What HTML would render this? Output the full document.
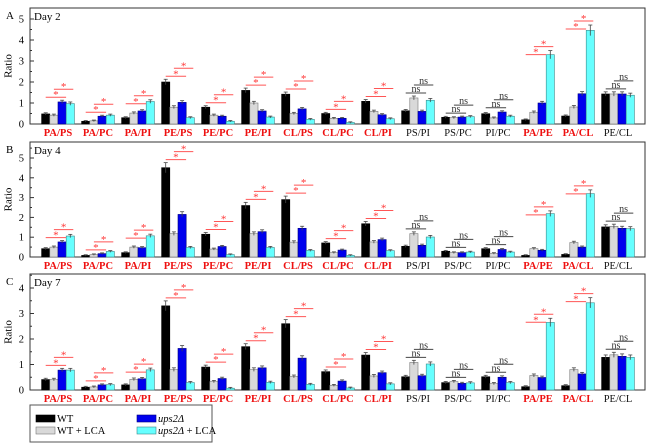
<!DOCTYPE html>
<html><head><meta charset="utf-8"><style>
body{margin:0;background:#fff}
svg{display:block;font-family:"Liberation Serif",serif}
</style></head><body>
<svg id="chart" width="650" height="446" viewBox="0 0 650 446"></svg>
<script>
const categories=["PA/PS","PA/PC","PA/PI","PE/PS","PE/PC","PE/PI","CL/PS","CL/PC","CL/PI","PS/PI","PS/PC","PI/PC","PA/PE","PA/CL","PE/CL"];
const significant=[1,1,1,1,1,1,1,1,1,0,0,0,1,1,0];
const seriesNames=["WT","WT + LCA","ups2Δ","ups2Δ + LCA"];
const day2WT=[0.48,0.13,0.30,2.00,0.80,1.60,1.42,0.50,1.08,0.63,0.32,0.49,0.20,0.38,1.43];
const day2WTLCA=[0.42,0.15,0.52,0.80,0.42,1.00,0.50,0.27,0.60,1.24,0.30,0.29,0.56,0.81,1.43];
const day2Ups=[1.05,0.37,0.62,1.03,0.37,0.62,0.72,0.27,0.44,0.60,0.33,0.57,1.00,1.44,1.43];
const day2UpsLCA=[0.97,0.42,1.07,0.30,0.13,0.33,0.22,0.07,0.25,1.13,0.35,0.37,3.30,4.46,1.37];
const day4WT=[0.42,0.08,0.22,4.51,1.15,2.60,2.90,0.71,1.68,0.54,0.29,0.42,0.08,0.13,1.52];
const day4WTLCA=[0.50,0.12,0.50,1.18,0.40,1.18,0.75,0.22,0.76,1.18,0.22,0.18,0.42,0.73,1.55];
const day4Ups=[0.76,0.17,0.47,2.15,0.53,1.28,1.45,0.35,0.88,0.59,0.22,0.38,0.34,0.50,1.45];
const day4UpsLCA=[1.06,0.28,1.07,0.48,0.12,0.48,0.33,0.08,0.32,1.01,0.25,0.25,2.19,3.20,1.43];
const day7WT=[0.41,0.11,0.20,3.30,0.90,1.70,2.60,0.72,1.37,0.52,0.29,0.52,0.13,0.17,1.28];
const day7WTLCA=[0.41,0.12,0.42,0.80,0.33,0.80,0.53,0.18,0.55,1.08,0.33,0.25,0.57,0.80,1.38];
const day7Ups=[0.78,0.20,0.44,1.63,0.45,0.87,1.25,0.35,0.68,0.56,0.26,0.50,0.49,0.63,1.32];
const day7UpsLCA=[0.78,0.21,0.79,0.29,0.07,0.30,0.22,0.08,0.24,1.02,0.28,0.29,2.65,3.42,1.28];
const panelLetters=["A","B","C"];
const panelDays=["Day 2","Day 4","Day 7"];
const panelTicks=[[0,1,2,3,4,5],[0,1,2,3,4,5],[0,1,2,3,4]];

const svg=document.getElementById('chart');
const NS="http://www.w3.org/2000/svg";
function mk(tag,attrs,parent){const e=document.createElementNS(NS,tag);for(const k in attrs)e.setAttribute(k,attrs[k]);(parent||svg).appendChild(e);return e;}
const colors=["#000000","#d9d9d9","#0000ee","#66ffff"];
const strokes=["#000","#777","#000080","#3a8a8a"];
const panels=[
 {top:8,zero:124,unit:21,maxY:5.5,data:[day2WT,day2WTLCA,day2Ups,day2UpsLCA]},
 {top:142,zero:257,unit:19.8,maxY:5.8,data:[day4WT,day4WTLCA,day4Ups,day4UpsLCA]},
 {top:274,zero:390,unit:25.5,maxY:4.55,data:[day7WT,day7WTLCA,day7Ups,day7UpsLCA]}
];
const left=30,right=645,barW=8.2;
function xc(i){return 58+40*i;}
panels.forEach((p,pi)=>{
 const g=mk('g',{});
 
 
 const y=v=>p.zero-v*p.unit;
 const box=mk('rect',{x:left,y:p.top,width:right-left,height:p.zero-p.top,fill:'none',stroke:'#333','stroke-width':1},g);
 
 const L=mk('text',{x:6,y:p.top+11,'font-size':11},g);L.textContent=panelLetters[pi];
 
 const D=mk('text',{x:34,y:p.top+12,'font-size':11},g);D.textContent=panelDays[pi];
 
 const R=mk('text',{x:9,y:(p.top+p.zero)/2,'font-size':11,transform:`rotate(-90 9 ${(p.top+p.zero)/2})`,'text-anchor':'middle','dominant-baseline':'middle'},g);R.textContent='Ratio';
 
 const ticks=panelTicks[pi];
 ticks.forEach(t=>{
  mk('line',{x1:left,x2:left+4,y1:y(t),y2:y(t),stroke:'#333'},g);
  const m=t+0.5;if(m<p.maxY)mk('line',{x1:left,x2:left+2,y1:y(m),y2:y(m),stroke:'#333'},g);
  const tl=mk('text',{x:left-6,y:y(t)+3.5,'font-size':10.5,'text-anchor':'end'},g);tl.textContent=t;
  
 });
 categories.forEach((c,i)=>{
  const tops=[];
  for(let s=0;s<4;s++){
   const v=p.data[s][i];const err=0.03+0.05*v;
   const bx=xc(i)-16.4+s*barW;
   const b=mk('rect',{x:bx,y:y(v),width:barW,height:v*p.unit,fill:colors[s],stroke:strokes[s],'stroke-width':0.6},g);
   
   const cx=bx+barW/2;
   mk('line',{x1:cx,x2:cx,y1:y(v+err),y2:y(Math.max(v-err,0)),stroke:'#444','stroke-width':0.8},g);
   mk('line',{x1:cx-2,x2:cx+2,y1:y(v+err),y2:y(v+err),stroke:'#444','stroke-width':0.8},g);
   tops.push(y(v+err));
  }
  const sig=significant[i];
  const col=sig?'#ff5555':'#444';
  const l1=Math.min(Math.min(tops[0],tops[1],tops[2])-3,tops[3]+4);
  const l2=l1-8;
  const cxs=[0,1,2,3].map(s=>xc(i)-16.4+s*barW+barW/2);
  [[cxs[0],cxs[2]+4,l1],[cxs[1],cxs[3]+3,l2]].forEach(([a,b2,ly])=>{
   const ln=mk('line',{x1:a,x2:b2,y1:ly,y2:ly,stroke:col,'stroke-width':1},g);
   
   const st=mk('text',{x:(a+b2)/2,y:sig?ly+1:ly-1,'font-size':sig?11:10,fill:sig?'#ff3333':'#333','text-anchor':'middle'},g);
   st.textContent=sig?'*':'ns';
   
  });
  const lab=mk('text',{x:xc(i),y:p.zero+12,'font-size':10.5,'text-anchor':'middle','font-weight':sig?'bold':'normal',fill:sig?'#ee1111':'#111'},g);
  lab.textContent=c;
  
 });
});
const lg=mk('g',{});

mk('rect',{x:30,y:405,width:182,height:37,fill:'#fff',stroke:'#555'},lg);
const lpos=[[36,420],[36,432],[137,420],[137,432]];
seriesNames.forEach((n,s)=>{
 const [lx,ly]=lpos[s];
 const sw=mk('rect',{x:lx,y:ly-5,width:19,height:7,fill:colors[s],stroke:strokes[s],'stroke-width':0.6},lg);
 
 const t=mk('text',{x:lx+21,y:ly+2,'font-size':10.5},lg);
 if(s>=2){const ts=mk('tspan',{'font-style':'italic'},t);ts.textContent='ups2Δ';if(s===3){const t2=mk('tspan',{},t);t2.textContent=' + LCA';}}
 else t.textContent=n;
 
});
</script>
</body></html>
